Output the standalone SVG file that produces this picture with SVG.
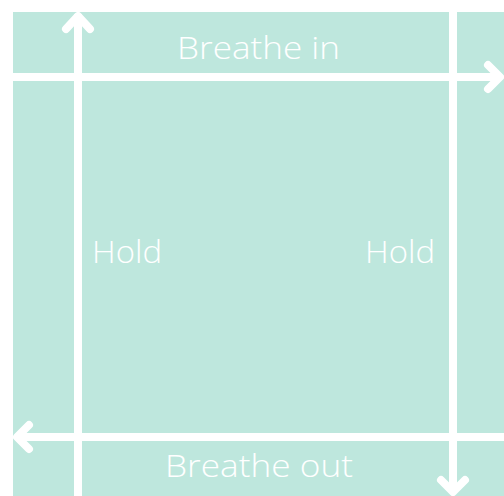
<svg xmlns="http://www.w3.org/2000/svg" width="504" height="496" viewBox="0 0 504 496">
<style>
.ln{stroke:#ffffff;stroke-width:8;fill:none;stroke-linecap:butt}
.hd{stroke:#ffffff;stroke-width:8;fill:none;stroke-linecap:round;stroke-linejoin:round}
.lb{fill:#ffffff;font-family:"Open Sans","Lato",sans-serif;font-weight:300;font-size:32px}
</style>
<rect x="0" y="0" width="504" height="496" fill="#ffffff"/>
<rect x="13" y="12" width="491" height="484" fill="#bee7dd"/>
<g id="connectors">
<line class="ln" x1="78" y1="14" x2="78" y2="496"/>
<polyline class="hd" points="66,29 78,16 90,29"/>
<line class="ln" x1="13" y1="77" x2="500" y2="77"/>
<polyline class="hd" points="488,65 500,77 488,89"/>
<line class="ln" x1="453" y1="12" x2="453" y2="492"/>
<polyline class="hd" points="441,480 453,492 465,480"/>
<line class="ln" x1="17" y1="437" x2="504" y2="437"/>
<polyline class="hd" points="29,425 17,437 29,449"/>
</g>
<g id="breathe-in"><text class="lb" x="177" y="59" textLength="163" lengthAdjust="spacingAndGlyphs">Breathe in</text></g>
<g id="hold-left"><text class="lb" x="92" y="263" textLength="70" lengthAdjust="spacingAndGlyphs">Hold</text></g>
<g id="hold-right"><text class="lb" x="365" y="263" textLength="70" lengthAdjust="spacingAndGlyphs">Hold</text></g>
<g id="breathe-out"><text class="lb" x="165" y="477" textLength="188" lengthAdjust="spacingAndGlyphs">Breathe out</text></g>
</svg>
